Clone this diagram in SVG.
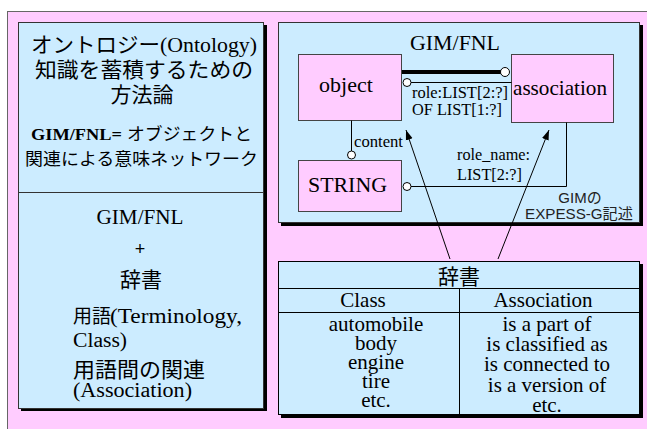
<svg xmlns="http://www.w3.org/2000/svg" width="647" height="429" viewBox="0 0 647 429">
<defs>
<style>
.panel{fill:#CCECFF;stroke:#333;stroke-width:1}
.shadow{fill:#000}
.node{fill:#FFCCFF;stroke:#444;stroke-width:1}
.serif{font-family:'Liberation Serif','Times New Roman',serif;fill:#000}
.sans{font-family:'Noto Sans CJK JP','Liberation Sans',sans-serif;fill:#000}
.lsans{font-family:'Liberation Sans','Noto Sans CJK JP',sans-serif;fill:#222}
.ln{stroke:#000;fill:none;stroke-width:1}
.knob{fill:#fff;stroke:#000;stroke-width:1}
.mid{text-anchor:middle}
</style>
<marker id="arr" viewBox="0 0 10 10" refX="10" refY="5" markerWidth="10" markerHeight="10" markerUnits="userSpaceOnUse" orient="auto">
<path d="M0,1.5 L10,5 L0,8.5 Z" fill="#000"/>
</marker>
</defs>

<rect x="7.5" y="11.5" width="645" height="425" fill="#FFCCFF" stroke="#666"/>

<g id="left-panel">
<rect class="shadow" x="21" y="25" width="246" height="386"/>
<rect class="panel" x="18.5" y="22.5" width="245" height="386"/>
<line x1="18.5" y1="192.5" x2="263.5" y2="192.5" stroke="#333"/>
<text class="sans" x="31" y="52" font-size="21" textLength="129" lengthAdjust="spacingAndGlyphs">オントロジー</text>
<text class="serif" x="160" y="52" font-size="20" textLength="97" lengthAdjust="spacingAndGlyphs">(Ontology)</text>
<text class="sans" x="35" y="77" font-size="21" textLength="218" lengthAdjust="spacingAndGlyphs">知識を蓄積するための</text>
<text class="sans mid" x="142" y="102" font-size="21">方法論</text>
<text class="serif" x="31" y="140" font-size="16" font-weight="bold" textLength="91" lengthAdjust="spacingAndGlyphs">GIM/FNL=</text>
<text class="sans" x="127" y="140" font-size="17.5" textLength="125" lengthAdjust="spacingAndGlyphs">オブジェクトと</text>
<text class="sans" x="25" y="165" font-size="17.5" textLength="233" lengthAdjust="spacingAndGlyphs">関連による意味ネットワーク</text>
<text class="serif mid" x="140" y="224" font-size="20" textLength="87" lengthAdjust="spacingAndGlyphs">GIM/FNL</text>
<text class="lsans mid" x="140" y="255" font-size="18" style="fill:#000">+</text>
<text class="sans mid" x="141" y="287" font-size="21">辞書</text>
<text class="sans" x="73" y="323" font-size="19">用語</text>
<text class="serif" x="110" y="323" font-size="20" textLength="132" lengthAdjust="spacingAndGlyphs">(Terminology,</text>
<text class="serif" x="73" y="347" font-size="20" textLength="54" lengthAdjust="spacingAndGlyphs">Class)</text>
<text class="sans" x="73" y="377" font-size="21" textLength="132" lengthAdjust="spacingAndGlyphs">用語間の関連</text>
<text class="serif" x="73" y="397" font-size="20" textLength="119" lengthAdjust="spacingAndGlyphs">(Association)</text>
</g>

<g id="gim-panel">
<rect class="shadow" x="281" y="25" width="362" height="201"/>
<rect class="panel" x="278.5" y="22.5" width="361" height="200"/>
<text class="serif mid" x="455" y="50" font-size="22" textLength="90" lengthAdjust="spacingAndGlyphs">GIM/FNL</text>
<text class="lsans mid" x="580" y="203" font-size="15">GIMの</text>
<text class="lsans" x="525" y="219" font-size="15" textLength="108" lengthAdjust="spacingAndGlyphs">EXPESS-G記述</text>
</g>

<g id="object">
<rect class="node" x="298.5" y="54.5" width="103" height="66"/>
<text class="serif mid" x="346" y="92" font-size="22">object</text>
</g>
<g id="association">
<rect class="node" x="511.5" y="54.5" width="102" height="68"/>
<text class="serif" x="513" y="95" font-size="21" textLength="94" lengthAdjust="spacingAndGlyphs">association</text>
</g>
<g id="string">
<rect class="node" x="298.5" y="160.5" width="103" height="51"/>
<text class="serif" x="308" y="192" font-size="22" textLength="79" lengthAdjust="spacingAndGlyphs">STRING</text>
</g>

<g id="dictionary">
<rect class="shadow" x="281" y="264" width="362" height="154"/>
<rect x="278.5" y="261.5" width="361" height="153" fill="#CCECFF" stroke="#000"/>
<line class="ln" x1="278.5" y1="288.5" x2="639.5" y2="288.5"/>
<line class="ln" x1="278.5" y1="312.5" x2="639.5" y2="312.5"/>
<line class="ln" x1="459.5" y1="288.5" x2="459.5" y2="414.5"/>
<text class="sans mid" x="459" y="284" font-size="21">辞書</text>
<text class="serif mid" x="363" y="307" font-size="21">Class</text>
<text class="serif mid" x="543" y="307" font-size="21">Association</text>
<text class="serif mid" x="376" y="331" font-size="21">automobile</text>
<text class="serif mid" x="376" y="350" font-size="21">body</text>
<text class="serif mid" x="376" y="369" font-size="21">engine</text>
<text class="serif mid" x="376" y="388" font-size="21">tire</text>
<text class="serif mid" x="376" y="407" font-size="21">etc.</text>
<text class="serif mid" x="547" y="331" font-size="21">is a part of</text>
<text class="serif mid" x="547" y="351" font-size="21">is classified as</text>
<text class="serif mid" x="547" y="371" font-size="21">is connected to</text>
<text class="serif mid" x="547" y="392" font-size="21">is a version of</text>
<text class="serif mid" x="547" y="412" font-size="21">etc.</text>
</g>

<g id="connectors">
<line x1="402" y1="72" x2="501" y2="72" stroke="#000" stroke-width="4"/>
<circle class="knob" cx="505" cy="72" r="4.5"/>
<line class="ln" x1="411" y1="82.5" x2="511.5" y2="82.5"/>
<circle class="knob" cx="407" cy="82.5" r="4"/>
<line class="ln" x1="351.5" y1="120.5" x2="351.5" y2="151"/>
<circle class="knob" cx="351.5" cy="155" r="4"/>
<polyline class="ln" points="411,186.5 566.5,186.5 566.5,122.5"/>
<circle class="knob" cx="407" cy="186.5" r="4"/>
<text class="serif" x="354" y="147" font-size="16" textLength="49" lengthAdjust="spacingAndGlyphs">content</text>
<text class="serif" x="412" y="98" font-size="16.5" textLength="96" lengthAdjust="spacingAndGlyphs">role:LIST[2:?]</text>
<text class="serif" x="412" y="115" font-size="16.5" textLength="90" lengthAdjust="spacingAndGlyphs">OF LIST[1:?]</text>
<text class="serif" x="457" y="160" font-size="16" textLength="73" lengthAdjust="spacingAndGlyphs">role_name:</text>
<text class="serif" x="457" y="180" font-size="16" textLength="65" lengthAdjust="spacingAndGlyphs">LIST[2:?]</text>
<line class="ln" x1="450" y1="259" x2="406" y2="130" stroke-width="1.3" marker-end="url(#arr)"/>
<line class="ln" x1="498" y1="259" x2="549" y2="130" stroke-width="1.3" marker-end="url(#arr)"/>
</g>
</svg>
